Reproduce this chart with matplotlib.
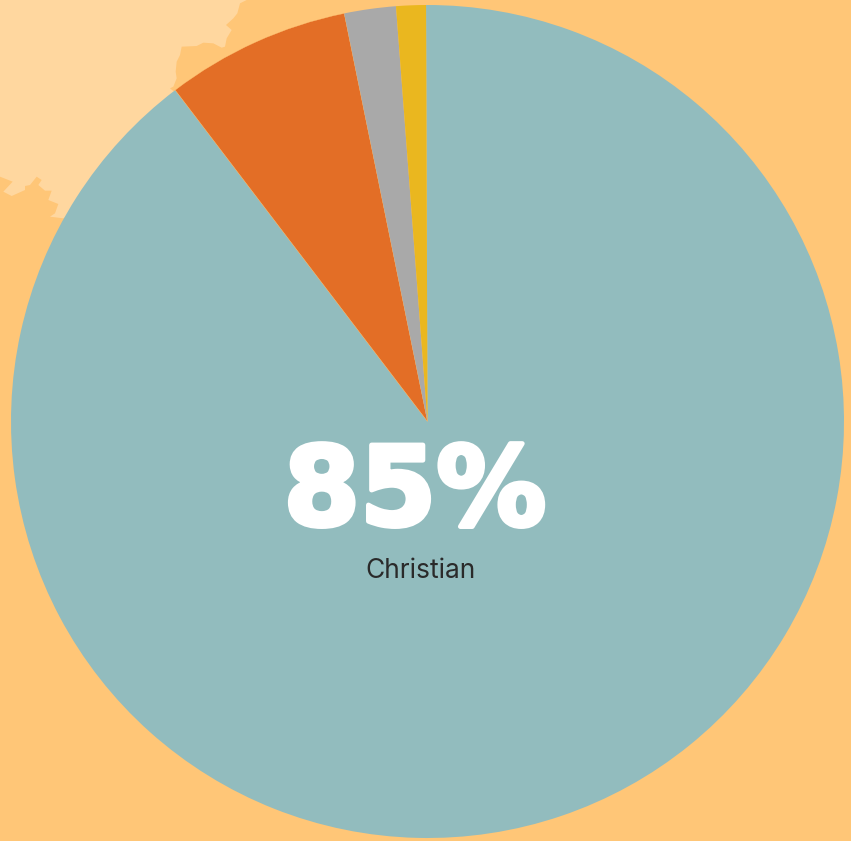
import matplotlib
matplotlib.use("Agg")
import matplotlib.pyplot as plt
import matplotlib.patheffects as pe
from matplotlib.patches import Polygon

# --- Data ---
labels = ['Christian', 'Other A', 'Other B', 'Other C']
shares = [89.7, 7.15, 2.0, 1.15]
colors = ['#92BCBE', '#E36E26', '#A9A9A9', '#EAB71F']
headline = '85%'
caption = 'Christian'

# --- Layout ---
W, H = 851, 841
cx, cy, r = 427.5, 421.5, 416.5
bg = '#FFC677'
land = '#FFD79F'

# coast outline behind the pie, traced on a 3x crop of the top left corner
coast_3x = [(0, 0), (740, 0), (720, 10), (712, 40), (700, 55), (678, 75), (695, 90),
            (680, 115), (675, 140), (665, 143), (640, 130), (610, 128), (590, 138),
            (545, 140), (540, 165), (530, 185), (527, 215), (530, 235), (520, 260),
            (510, 265), (525, 277), (300, 600), (190, 655), (150, 650), (165, 640),
            (175, 612), (145, 600), (155, 572), (135, 572), (115, 555), (125, 540),
            (110, 530), (90, 555), (75, 558), (75, 570), (35, 588), (10, 575),
            (38, 545), (0, 530)]
coast = [(x / 3, y / 3) for x, y in coast_3x]

fig = plt.figure(figsize=(W / 100, H / 100), dpi=100, facecolor=bg)

back = fig.add_axes([0, 0, 1, 1])
back.set_xlim(0, W)
back.set_ylim(H, 0)
back.axis('off')
back.add_patch(Polygon(coast, closed=True, facecolor=land, edgecolor='none'))

ax = fig.add_axes([0, 0, 1, 1])
ax.patch.set_alpha(0)
wedges, _ = ax.pie(shares, colors=colors, startangle=90.2, counterclock=False, radius=1,
                   wedgeprops={'linewidth': 0})
# pale seam round the orange slice
wedges[1].set(edgecolor=bg, linewidth=0.25)
ax.set_xlim(-cx / r, (W - cx) / r)
ax.set_ylim((cy - H) / r, cy / r)
ax.set_aspect('equal')
ax.axis('off')

big = ax.text((415 - cx) / r, (cy - 525) / r, headline, color='white', fontsize=79,
              fontweight='bold', family='DejaVu Sans', ha='center', va='baseline')
# no heavier weight installed, so thicken it
big.set_path_effects([pe.withStroke(linewidth=3.5, foreground='white')])
ax.text((421 - cx) / r, (cy - 578) / r, caption, color='#2A2A2A', fontsize=19,
        family='Inter', ha='center', va='baseline')

fig.savefig('out.png', dpi=100, facecolor=bg)
